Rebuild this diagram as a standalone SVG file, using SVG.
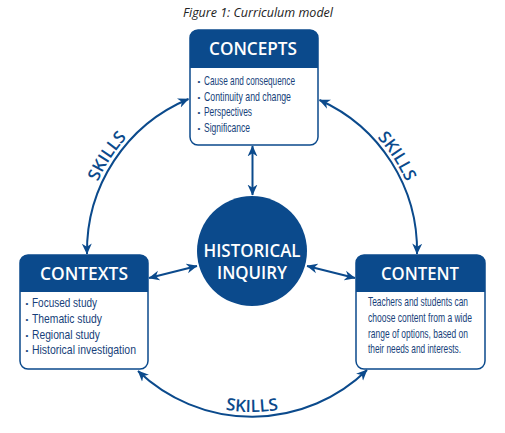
<svg xmlns="http://www.w3.org/2000/svg" width="505" height="433" viewBox="0 0 505 433">
<style>
.hdr{fill:#0b4a8c}
.box{fill:#ffffff;stroke:#0b4a8c;stroke-width:1.5}
.ht{font-family:"Open Sans","Liberation Sans",sans-serif;font-weight:600;font-size:17.5px;fill:#ffffff;text-anchor:middle}
.bt{font-family:"Liberation Sans",sans-serif;font-size:12px;fill:#173f7a}
.bul{font-family:"Liberation Sans",sans-serif;font-size:8px;fill:#173f7a}
.sk{font-family:"Open Sans","Liberation Sans",sans-serif;font-weight:600;font-size:17px;fill:#0b4a8c;text-anchor:middle}
.ln{fill:none;stroke:#0b4a8c;stroke-width:2}
.ttl{font-family:"Open Sans","Liberation Sans",sans-serif;font-style:italic;font-size:12px;fill:#222222;text-anchor:middle}
</style>
<defs>
<marker id="ah" viewBox="0 0 10 10" refX="9.5" refY="5" markerUnits="userSpaceOnUse" markerWidth="11" markerHeight="11" orient="auto-start-reverse">
<path d="M0,0.5 L10,5 L0,9.5 L3,5 Z" fill="#0b4a8c"/>
</marker>
<path id="topArc" d="M83,251 A169,169 0 0 1 421,251"/>
<path id="botArc" d="M91,251 A161,161 0 0 0 413,251"/>
</defs>

<text class="ttl" x="258" y="17" textLength="150" lengthAdjust="spacingAndGlyphs">Figure 1: Curriculum model</text>

<g id="connectors">
<line class="ln" x1="252.5" y1="146" x2="252.5" y2="195" marker-start="url(#ah)" marker-end="url(#ah)"/>
<line class="ln" x1="149" y1="278" x2="197" y2="266" marker-start="url(#ah)" marker-end="url(#ah)"/>
<line class="ln" x1="307" y1="266" x2="355" y2="278" marker-start="url(#ah)" marker-end="url(#ah)"/>
<path class="ln" d="M87,254 A165,165 0 0 1 188.5,99" marker-start="url(#ah)" marker-end="url(#ah)"/>
<path class="ln" d="M319.5,100 A165,165 0 0 1 417,254" marker-start="url(#ah)" marker-end="url(#ah)"/>
<path class="ln" d="M138,371 A165,165 0 0 0 367,370" marker-start="url(#ah)" marker-end="url(#ah)"/>
<text class="sk"><textPath href="#topArc" startOffset="98">SKILLS</textPath></text>
<text class="sk"><textPath href="#topArc" startOffset="433">SKILLS</textPath></text>
<text class="sk"><textPath href="#botArc" startOffset="50%">SKILLS</textPath></text>
</g>

<g id="concepts">
<rect class="box" x="190" y="30" width="128" height="115" rx="8"/>
<path class="hdr" d="M190,68 V38 A8,8 0 0 1 198,30 H310 A8,8 0 0 1 318,38 V68 Z"/>
<text class="ht" x="253" y="55" textLength="88" lengthAdjust="spacingAndGlyphs">CONCEPTS</text>
<text class="bul" x="197.5" y="84">•</text>
<text class="bul" x="197.5" y="100">•</text>
<text class="bul" x="197.5" y="115">•</text>
<text class="bul" x="197.5" y="130.5">•</text>
<g transform="translate(204,0) scale(0.72,1)">
<text class="bt" x="0" y="85.5" textLength="126.4" lengthAdjust="spacingAndGlyphs">Cause and consequence</text>
<text class="bt" x="0" y="101" textLength="120.8" lengthAdjust="spacingAndGlyphs">Continuity and change</text>
<text class="bt" x="0" y="116.5" textLength="66.7" lengthAdjust="spacingAndGlyphs">Perspectives</text>
<text class="bt" x="0" y="132" textLength="63.9" lengthAdjust="spacingAndGlyphs">Significance</text>
</g>
</g>

<g id="contexts">
<rect class="box" x="20" y="255" width="128" height="114" rx="8"/>
<path class="hdr" d="M20,292 V263 A8,8 0 0 1 28,255 H140 A8,8 0 0 1 148,263 V292 Z"/>
<text class="ht" x="84" y="280" textLength="88" lengthAdjust="spacingAndGlyphs">CONTEXTS</text>
<text class="bul" x="25.5" y="306">•</text>
<text class="bul" x="25.5" y="322">•</text>
<text class="bul" x="25.5" y="338">•</text>
<text class="bul" x="25.5" y="353">•</text>
<g transform="translate(32,0) scale(0.72,1)">
<text class="bt" x="0" y="307.5" textLength="90.3" lengthAdjust="spacingAndGlyphs">Focused study</text>
<text class="bt" x="0" y="323.5" textLength="97.2" lengthAdjust="spacingAndGlyphs">Thematic study</text>
<text class="bt" x="0" y="339.5" textLength="94.4" lengthAdjust="spacingAndGlyphs">Regional study</text>
<text class="bt" x="0" y="354.5" textLength="144.4" lengthAdjust="spacingAndGlyphs">Historical investigation</text>
</g>
</g>

<g id="content">
<rect class="box" x="356" y="255" width="129" height="114" rx="8"/>
<path class="hdr" d="M356,292 V263 A8,8 0 0 1 364,255 H477 A8,8 0 0 1 485,263 V292 Z"/>
<text class="ht" x="420" y="280" textLength="78" lengthAdjust="spacingAndGlyphs">CONTENT</text>
<g transform="translate(368,0) scale(0.72,1)">
<text class="bt" x="0" y="306" textLength="138.9" lengthAdjust="spacingAndGlyphs">Teachers and students can</text>
<text class="bt" x="0" y="322" textLength="144.4" lengthAdjust="spacingAndGlyphs">choose content from a wide</text>
<text class="bt" x="0" y="338" textLength="138.9" lengthAdjust="spacingAndGlyphs">range of options, based on</text>
<text class="bt" x="0" y="353" textLength="129.2" lengthAdjust="spacingAndGlyphs">their needs and interests.</text>
</g>
</g>

<g id="inquiry">
<circle cx="252" cy="251" r="55" fill="#0b4a8c"/>
<text class="ht" x="252" y="257" textLength="97" lengthAdjust="spacingAndGlyphs">HISTORICAL</text>
<text class="ht" x="252" y="279" textLength="70" lengthAdjust="spacingAndGlyphs">INQUIRY</text>
</g>
</svg>
